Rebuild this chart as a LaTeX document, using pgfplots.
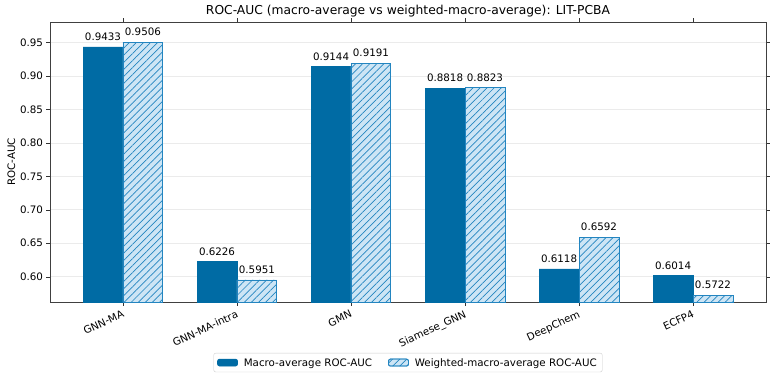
\documentclass[border=0pt]{standalone}
\usepackage{pgfplots}
\pgfplotsset{compat=1.18}
\usepackage{fontspec}
\setmainfont{DejaVu Sans}
\usetikzlibrary{patterns.meta}
\definecolor{dark}{HTML}{006BA4}
\definecolor{lightf}{HTML}{CDE5F5}
\definecolor{edge}{HTML}{2385C0}
\begin{document}
\begin{tikzpicture}[x=1pt,y=1pt]
\path[use as bounding box] (-50,-82) rectangle (726,302);
\begin{axis}[
  at={(0,0)}, anchor=south west,
  scale only axis, width=716pt, height=280pt,
  /pgf/number format/assume math mode=true,
  xmin=-0.64, xmax=5.64,
  ymin=0.5622, ymax=0.9806,
  xtick={0,1,2,3,4,5},
  xticklabels={GNN-MA,GNN-MA-intra,GMN,Siamese\_GNN,DeepChem,ECFP4},
  xticklabel style={rotate=25, anchor=north east, font=\fontsize{10.3}{12}\selectfont, inner sep=3pt},
  ytick={0.60,0.65,0.70,0.75,0.80,0.85,0.90,0.95},
  yticklabel style={/pgf/number format/.cd, fixed, fixed zerofill, precision=2, /tikz/.cd, font=\fontsize{10.3}{12}\selectfont},
  ylabel={ROC-AUC}, ylabel style={font=\fontsize{10.3}{12}\selectfont, yshift=-2pt},
  title={ROC-AUC (macro-average vs weighted-macro-average): LIT-PCBA},
  title style={font=\fontsize{12.3}{14}\selectfont, yshift=-5pt},
  tick align=outside, major tick length=3.5pt,
  tick style={black!80},
  axis line style={black!75},
  ymajorgrids, grid style={black!8, line width=0.6pt},
  ybar, bar width=0.35,
  nodes near coords,
  nodes near coords style={/pgf/number format/.cd, fixed, fixed zerofill, precision=4, /tikz/.cd, font=\fontsize{10.3}{12}\selectfont, black, yshift=2.5pt},
  legend style={at={(0.5,-0.182)}, anchor=north, legend columns=2, draw=black!20, rounded corners=2pt, font=\fontsize{10.3}{12}\selectfont, /tikz/every even column/.append style={column sep=14pt}, inner sep=3.5pt, nodes={inner sep=2pt, text depth=0pt}},
  legend image code/.code={\draw[#1] (0pt,-3.5pt) rectangle (20pt,3.5pt);},
  legend cell align=left,
]
\addplot[bar shift=-0.175, fill=dark, draw=dark, line width=0.6pt] coordinates {(0,0.9433) (1,0.6226) (2,0.9144) (3,0.8818) (4,0.6118) (5,0.6014)};
\addlegendentry{\hspace{4pt}Macro-average ROC-AUC}
\addplot[bar shift=0.175, fill=lightf, draw=edge, line width=0.8pt, postaction={pattern={Lines[angle=45, distance=5pt, line width=0.7pt]}, pattern color=edge}] coordinates {(0,0.9506) (1,0.5951) (2,0.9191) (3,0.8823) (4,0.6592) (5,0.5722)};
\addlegendentry{\hspace{4pt}Weighted-macro-average ROC-AUC}
\end{axis}
\end{tikzpicture}
\end{document}
